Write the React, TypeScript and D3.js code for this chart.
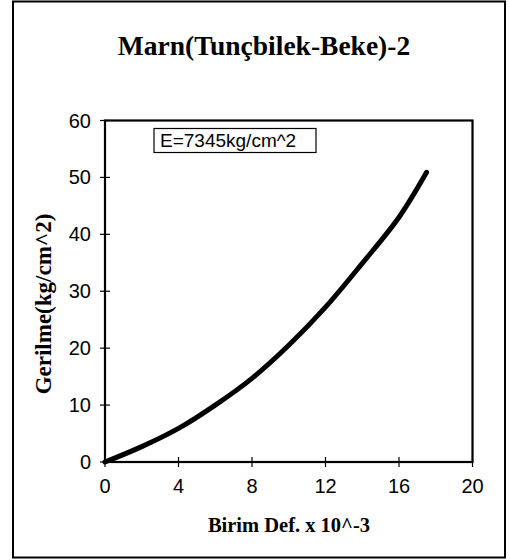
import React from "react";
import * as d3 from "d3";

const strainValues = [0, 2, 4, 6, 8, 10, 12, 14, 16, 17.5];
const stressValues = [0, 2.7, 5.9, 10.0, 14.7, 20.5, 27.2, 34.9, 43.0, 50.9];
const xTicks = [0, 4, 8, 12, 16, 20];
const yTicks = [0, 10, 20, 30, 40, 50, 60];
const titleText = "Marn(Tunçbilek-Beke)-2";
const xTitle = "Birim Def. x 10^-3";
const yTitle = "Gerilme(kg/cm^2)";
const legendText = "E=7345kg/cm^2";

export default function App() {
  const W = 510, H = 560;
  const x = d3.scaleLinear().domain([0, 20]).range([105, 472.5]);
  const y = d3.scaleLinear().domain([0, 60]).range([462, 120.5]);
  const pts = strainValues.map((v, i) => [v, stressValues[i]] as [number, number]);
  const line = d3.line<[number, number]>().x(d => x(d[0])).y(d => y(d[1])).curve(d3.curveCatmullRom.alpha(0.5));
  const sans = "Arial, 'Liberation Sans', sans-serif";
  const serif = "'Times New Roman', 'Liberation Serif', serif";
  return (
    <svg width={W} height={H} style={{ position: "absolute", left: 0, top: 0, background: "#fff" }}>
      <rect x={13} y={1.5} width={492} height={556} fill="#fff" stroke="#000" strokeWidth={2} />
      <text x={264} y={55} textAnchor="middle" fontFamily={serif} fontWeight="bold" fontSize={27.5}>{titleText}</text>
      <rect x={x(0)} y={y(60)} width={x(20) - x(0)} height={y(0) - y(60)} fill="none" stroke="#000" strokeWidth={2.2} />
      {xTicks.map(t => (
        <g key={"x" + t}>
          <line x1={x(t)} x2={x(t)} y1={y(0) - 5} y2={y(0) + 5} stroke="#000" strokeWidth={1.2} />
          <text x={x(t)} y={y(0) + 31} textAnchor="middle" fontFamily={sans} fontSize={20}>{t}</text>
        </g>
      ))}
      {yTicks.map(t => (
        <g key={"y" + t}>
          <line x1={x(0) - 5} x2={x(0) + 5} y1={y(t)} y2={y(t)} stroke="#000" strokeWidth={1.2} />
          <text x={91} y={y(t) + 7} textAnchor="end" fontFamily={sans} fontSize={20}>{t}</text>
        </g>
      ))}
      <text x={289} y={532} textAnchor="middle" fontFamily={serif} fontWeight="bold" fontSize={20.5}>{xTitle}</text>
      <text transform={`translate(51,304) rotate(-90)`} textAnchor="middle" fontFamily={serif} fontWeight="bold" fontSize={23}>{yTitle}</text>
      <rect x={154} y={128.5} width={162} height={24} fill="#fff" stroke="#000" strokeWidth={1.2} />
      <text x={160} y={147} fontFamily={sans} fontSize={19}>{legendText}</text>
      <path d={line(pts) || ""} fill="none" stroke="#000" strokeWidth={5} strokeLinecap="round" />
    </svg>
  );
}
